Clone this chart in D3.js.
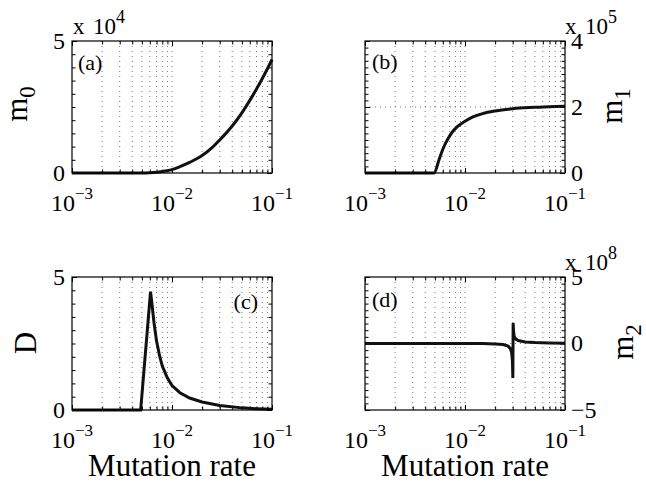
<!DOCTYPE html>
<html><head><meta charset="utf-8">
<script src="https://cdn.jsdelivr.net/npm/d3@7"></script>
<style>
body{margin:0;background:#fff}
svg{display:block}
text{font-family:"Liberation Serif","Times New Roman",serif;fill:#000}
</style>
</head><body><svg id="chart" width="646" height="484"></svg>
<script>
// ---- data ----
const xMajorTicks = [0.001, 0.01, 0.1];
const xTickExponents = ["\u22123", "\u22122", "\u22121"];
const xMinorTicks = [0.002,0.003,0.004,0.005,0.006,0.007,0.008,0.009,0.02,0.03,0.04,0.05,0.06,0.07,0.08,0.09];
const xLabel = "Mutation rate";

const rateA = [0.001,0.002,0.003,0.004,0.005,0.006,0.007,0.008,0.01,0.012,0.015,0.02,0.025,0.03,0.04,0.05,0.06,0.07,0.08,0.09,0.1];
const m0Values = [0,0,0,0,0,0.01,0.03,0.06,0.13,0.24,0.4,0.66,0.95,1.25,1.78,2.28,2.75,3.18,3.58,3.95,4.3];

const rateB = [0.001,0.002,0.004,0.0049,0.0055,0.006,0.0068,0.0075,0.0085,0.01,0.012,0.015,0.02,0.03,0.05,0.07,0.1];
const m1Values = [0,0,0,0,0.4,0.72,1.05,1.25,1.42,1.57,1.7,1.8,1.88,1.95,1.99,2.01,2.02];

const rateC = [0.001,0.002,0.004,0.00486,0.0061,0.0063,0.0066,0.007,0.0075,0.008,0.009,0.01,0.012,0.015,0.02,0.03,0.05,0.07,0.1];
const dValues = [0,0,0,0,4.45,4.0,3.3,2.6,2.05,1.65,1.2,0.92,0.65,0.45,0.3,0.17,0.08,0.05,0.03];

const rateD = [0.001,0.005,0.01,0.015,0.02,0.024,0.027,0.0285,0.0293,0.0298,0.0301,0.0303,0.0306,0.031,0.032,0.034,0.04,0.05,0.07,0.1];
const m2Values = [0,0,0,0,-0.03,-0.08,-0.2,-0.4,-0.7,-1.3,-2.6,1.55,0.9,0.55,0.35,0.22,0.12,0.07,0.04,0.02];

const panels = [
  {tag:"(a)", rates:rateA, vals:m0Values, x0:72, x1:272, y0:41, y1:173, yDomain:[0,5], yMajor:[0,5], yMinorStep:0.5,
   side:"left", exp:"4", ylab:"m", ysub:"0", ylabX:27, ylabY:104, tagX:78, tagY:70, tagAnchor:"start", curve:"mono"},
  {tag:"(b)", rates:rateB, vals:m1Values, x0:365, x1:565, y0:41, y1:173, yDomain:[0,4], yMajor:[0,2,4], yMinorStep:0.2,
   side:"right", exp:"5", ylab:"m", ysub:"1", ylabX:622, ylabY:106, tagX:372, tagY:69, tagAnchor:"start", curve:"mono"},
  {tag:"(c)", rates:rateC, vals:dValues, x0:72, x1:272, y0:277, y1:410, yDomain:[0,5], yMajor:[0,5], yMinorStep:0.5,
   side:"left", exp:null, ylab:"D", ysub:null, ylabX:36, ylabY:343, tagX:258, tagY:309, tagAnchor:"end", curve:"lin"},
  {tag:"(d)", rates:rateD, vals:m2Values, x0:365, x1:565, y0:277, y1:410, yDomain:[-5,5], yMajor:[-5,0,5], yMinorStep:0.5,
   side:"right", exp:"8", ylab:"m", ysub:"2", ylabX:633, ylabY:342, tagX:372, tagY:307, tagAnchor:"start", curve:"lin"}
];

const svg = d3.select("#chart");
const fmtY = v => v < 0 ? "\u2212" + Math.abs(v) : String(v);

panels.forEach((p, pi) => {
  const x = d3.scaleLog().domain([0.001, 0.1]).range([p.x0, p.x1]);
  const y = d3.scaleLinear().domain(p.yDomain).range([p.y1, p.y0]);
  const g = svg.append("g");

  // grid: vertical dotted lines at all x ticks (minor + major), horizontal at major y
  const gridX = xMinorTicks.concat(xMajorTicks).filter(v => v > 0.001 && v < 0.1);
  g.selectAll(".gx").data(gridX).enter().append("line")
    .attr("x1", d => x(d)).attr("x2", d => x(d)).attr("y1", p.y0).attr("y2", p.y1)
    .attr("stroke", "#777").attr("stroke-width", 1).attr("stroke-dasharray", "1,4");
  g.selectAll(".gy").data(p.yMajor.filter(v => v > p.yDomain[0] && v < p.yDomain[1])).enter().append("line")
    .attr("x1", p.x0).attr("x2", p.x1).attr("y1", d => y(d)).attr("y2", d => y(d))
    .attr("stroke", "#777").attr("stroke-width", 1).attr("stroke-dasharray", "1,4");

  // minor y values
  const yMinor = d3.range(p.yDomain[0], p.yDomain[1] + 1e-9, p.yMinorStep).filter(v => !p.yMajor.some(m => Math.abs(m - v) < 1e-9));

  // ticks via d3 axes (inward)
  const mk = (axis, transform) => {
    const a = g.append("g").attr("transform", transform).call(axis);
    a.select(".domain").remove();
    a.selectAll("text").remove();
    a.selectAll("line").attr("stroke", "#000").attr("stroke-width", 1);
  };
  mk(d3.axisBottom(x).tickValues(xMajorTicks).tickSize(-5), `translate(0,${p.y1})`);
  mk(d3.axisBottom(x).tickValues(xMinorTicks).tickSize(-3.5), `translate(0,${p.y1})`);
  mk(d3.axisTop(x).tickValues(xMajorTicks).tickSize(-5), `translate(0,${p.y0})`);
  mk(d3.axisTop(x).tickValues(xMinorTicks).tickSize(-3.5), `translate(0,${p.y0})`);
  mk(d3.axisLeft(y).tickValues(p.yMajor).tickSize(-5), `translate(${p.x0},0)`);
  mk(d3.axisLeft(y).tickValues(yMinor).tickSize(-3.5), `translate(${p.x0},0)`);
  mk(d3.axisRight(y).tickValues(p.yMajor).tickSize(-5), `translate(${p.x1},0)`);
  mk(d3.axisRight(y).tickValues(yMinor).tickSize(-3.5), `translate(${p.x1},0)`);

  // data line
  const line = d3.line().x(d => x(d[0])).y(d => y(d[1]))
    .curve(p.curve === "mono" ? d3.curveMonotoneX : d3.curveLinear);
  g.append("path").datum(p.rates.map((r, i) => [r, p.vals[i]]))
    .attr("d", line).attr("fill", "none").attr("stroke", "#111").attr("stroke-width", 3)
    .attr("stroke-linejoin", "miter").attr("stroke-miterlimit", 10);

  // box
  g.append("rect").attr("x", p.x0).attr("y", p.y0).attr("width", p.x1 - p.x0).attr("height", p.y1 - p.y0)
    .attr("fill", "none").attr("stroke", "#000").attr("stroke-width", 1.2);

  // x tick labels
  xMajorTicks.forEach((v, i) => {
    const t = g.append("text").attr("x", x(v)).attr("y", p.y1 + 38).attr("text-anchor", "middle").attr("font-size", 24);
    t.append("tspan").text("10");
    t.append("tspan").attr("dy", -12).attr("font-size", 17).text(xTickExponents[i]);
  });

  // y tick labels
  p.yMajor.forEach(v => {
    g.append("text").attr("x", p.side === "left" ? p.x0 - 7 : p.x1 + 6).attr("y", y(v))
      .attr("dy", "0.33em").attr("text-anchor", p.side === "left" ? "end" : "start")
      .attr("font-size", 24).text(fmtY(v));
  });

  // exponent label
  if (p.exp) {
    const ex = p.side === "left" ? p.x0 + 1 : p.x1;
    const t = g.append("text").attr("x", ex).attr("y", p.y0 - 7).attr("font-size", 23);
    t.append("tspan").text("x");
    t.append("tspan").attr("x", ex + 20).text("10");
    t.append("tspan").attr("dy", -11).attr("font-size", 18).text(p.exp);
  }

  // y label (rotated)
  const yl = g.append("text").attr("transform", `translate(${p.ylabX},${p.ylabY}) rotate(-90)`)
    .attr("text-anchor", "middle").attr("font-size", 31);
  yl.append("tspan").text(p.ylab);
  if (p.ysub) yl.append("tspan").attr("dy", 8).attr("font-size", 23).text(p.ysub);

  // panel tag
  g.append("text").attr("x", p.tagX).attr("y", p.tagY).attr("text-anchor", p.tagAnchor)
    .attr("font-size", 22).text(p.tag);

  // x label for bottom row
  if (pi >= 2) {
    g.append("text").attr("x", (p.x0 + p.x1) / 2).attr("y", 476).attr("text-anchor", "middle")
      .attr("font-size", 31).text(xLabel);
  }
});
</script>
</body></html>
